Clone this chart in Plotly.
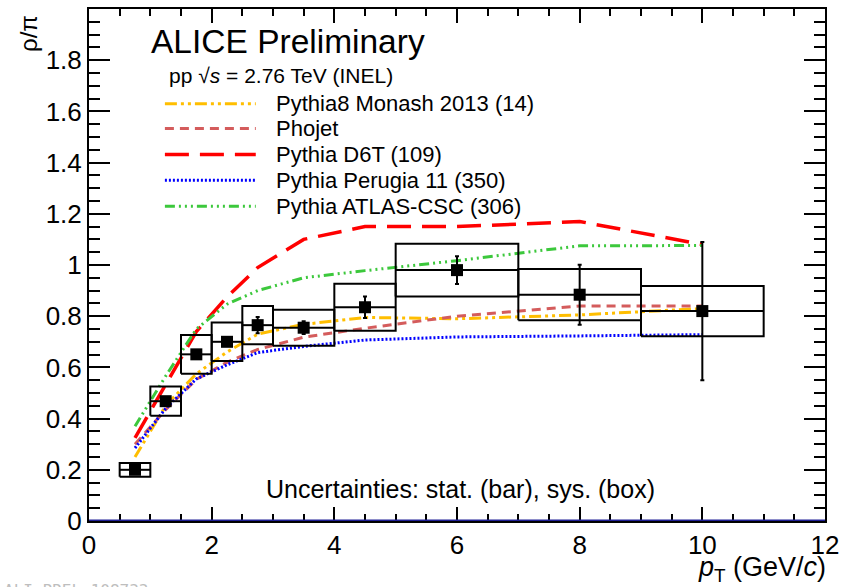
import plotly.graph_objects as go

# ---- data ----
pt = [0.75, 1.25, 1.75, 2.25, 2.75, 3.5, 4.5, 6.0, 8.0, 10.0]
bin_lo = [0.5, 1.0, 1.5, 2.0, 2.5, 3.0, 4.0, 5.0, 7.0, 9.0]
bin_hi = [1.0, 1.5, 2.0, 2.5, 3.0, 4.0, 5.0, 7.0, 9.0, 11.0]
ratio = [0.20, 0.468, 0.651, 0.70, 0.765, 0.755, 0.835, 0.98, 0.884, 0.82]
stat_err = [0.008, 0.012, 0.015, 0.015, 0.032, 0.025, 0.042, 0.054, 0.117, 0.27]
sys_err = [0.027, 0.057, 0.076, 0.075, 0.075, 0.07, 0.092, 0.103, 0.10, 0.098]

model_pt = [0.75, 1.25, 1.75, 2.25, 2.75, 3.5, 4.5, 6.0, 8.0, 10.0]
monash = [0.25, 0.45, 0.575, 0.66, 0.73, 0.768, 0.795, 0.79, 0.805, 0.83]
phojet = [0.30, 0.435, 0.553, 0.62, 0.67, 0.718, 0.753, 0.80, 0.84, 0.84]
d6t = [0.325, 0.53, 0.74, 0.875, 0.99, 1.10, 1.15, 1.15, 1.17, 1.08]
perugia = [0.285, 0.44, 0.555, 0.61, 0.658, 0.682, 0.707, 0.719, 0.723, 0.728]
atlas = [0.37, 0.566, 0.75, 0.847, 0.90, 0.95, 0.978, 1.017, 1.075, 1.076]

models = [
    ("Pythia8 Monash 2013 (14)", monash, "rgb(255,190,0)", "12px,4px,3px,4px,3px,4px", 3),
    ("Phojet", phojet, "rgb(212,92,92)", "9px,6px", 3),
    ("Pythia D6T (109)", d6t, "rgb(255,0,0)", "24px,11px", 3.5),
    ("Pythia Perugia 11 (350)", perugia, "rgb(0,0,255)", "2px,2px", 3),
    ("Pythia ATLAS-CSC (306)", atlas, "rgb(60,200,60)", "10px,4px,2px,4px,2px,4px,2px,4px", 3),
]

FONT = "Liberation Sans, Arial, sans-serif"
W, H = 846, 587
L, R, T, B = 89, 20, 7, 66
PW, PH = W - L - R, H - T - B


def px(xp):
    return (xp - L) / PW


def py(yp):
    return (H - B - yp) / PH


fig = go.Figure()

# model curves
for name, vals, col, dash, w in models:
    fig.add_trace(go.Scatter(x=model_pt, y=vals, mode="lines",
                             line=dict(color=col, dash=dash, width=w),
                             showlegend=False, hoverinfo="skip"))

# systematic boxes built from bin edges and errors
bx, by = [], []
for lo, hi, v, s in zip(bin_lo, bin_hi, ratio, sys_err):
    bx += [lo, hi, hi, lo, lo, None]
    by += [v - s, v - s, v + s, v + s, v - s, None]
fig.add_trace(go.Scatter(x=bx, y=by, mode="lines", line=dict(color="black", width=2),
                         showlegend=False, hoverinfo="skip"))

# data points with bin-width lines and stat errors
half_w = [(h - l) / 2 for l, h in zip(bin_lo, bin_hi)]
fig.add_trace(go.Scatter(
    x=pt, y=ratio, mode="markers",
    marker=dict(symbol="square", size=12, color="black"),
    error_x=dict(type="data", array=half_w, width=0, thickness=2, color="black"),
    error_y=dict(type="data", array=stat_err, width=2, thickness=2, color="black"),
    showlegend=False))

shapes = []
# blue zero line
shapes.append(dict(type="line", xref="x", yref="y", x0=0, x1=12, y0=0, y1=0,
                   line=dict(color="rgb(30,30,150)", width=3), layer="above"))

annotations = []
# legend samples and labels
rows = [102, 127, 153, 179, 205]
for (name, vals, col, dash, w), yr in zip(models, rows):
    shapes.append(dict(type="line", xref="paper", yref="paper",
                       x0=px(165), x1=px(256), y0=py(yr), y1=py(yr),
                       line=dict(color=col, dash=dash, width=w)))
    annotations.append(dict(x=px(274), y=py(yr), xref="paper", yref="paper",
                            text=name, showarrow=False, xanchor="left", yanchor="middle",
                            font=dict(family=FONT, size=22, color="black")))

annotations += [
    dict(x=px(149), y=py(40), xref="paper", yref="paper", text="ALICE Preliminary",
         showarrow=False, xanchor="left", yanchor="middle",
         font=dict(family=FONT, size=33.5, color="black")),
    dict(x=px(167), y=py(74), xref="paper", yref="paper",
         text="pp \u221A<i>s</i> = 2.76 TeV (INEL)",
         showarrow=False, xanchor="left", yanchor="middle",
         font=dict(family=FONT, size=21, color="black")),
    dict(x=px(461), y=py(489), xref="paper", yref="paper",
         text="Uncertainties: stat. (bar), sys. (box)",
         showarrow=False, xanchor="center", yanchor="middle",
         font=dict(family=FONT, size=25, color="black")),
    dict(x=px(829), y=py(569), xref="paper", yref="paper",
         text="<i>p</i><sub>T</sub> (GeV/<i>c</i>)",
         showarrow=False, xanchor="right", yanchor="middle",
         font=dict(family=FONT, size=27, color="black")),
    dict(x=px(29), y=py(32), xref="paper", yref="paper", text="\u03C1/\u03C0",
         showarrow=False, textangle=-90, xanchor="center", yanchor="middle",
         font=dict(family=FONT, size=24, color="black")),
    dict(x=px(2), y=py(591), xref="paper", yref="paper", text="ALI-PREL-108733",
         showarrow=False, xanchor="left", yanchor="middle",
         font=dict(family="DejaVu Sans Mono, monospace", size=16, color="rgb(190,190,190)")),
]

axis_common = dict(showline=True, linecolor="black", linewidth=2, mirror="allticks",
                   ticks="inside", tickcolor="black", tickwidth=1.5,
                   showgrid=False, zeroline=False,
                   tickfont=dict(family=FONT, size=26, color="black"))

fig.update_layout(
    width=W, height=H,
    margin=dict(l=L, r=R, t=T, b=B),
    paper_bgcolor="white", plot_bgcolor="white",
    showlegend=False,
    xaxis=dict(range=[0, 12], tickmode="array", tickvals=[0, 2, 4, 6, 8, 10, 12],
               ticklen=14,
               minor=dict(ticks="inside", dtick=0.5, ticklen=7, tickcolor="black", tickwidth=1.5),
               **axis_common),
    yaxis=dict(range=[0, 2.0], tickmode="array",
               tickvals=[0, 0.2, 0.4, 0.6, 0.8, 1.0, 1.2, 1.4, 1.6, 1.8],
               ticktext=["0", "0.2", "0.4", "0.6", "0.8", "1", "1.2", "1.4", "1.6", "1.8"],
               ticklen=21,
               minor=dict(ticks="inside", dtick=0.05, ticklen=11, tickcolor="black", tickwidth=1.5),
               **axis_common),
    shapes=shapes,
    annotations=annotations,
)

fig.write_html("out.html")
